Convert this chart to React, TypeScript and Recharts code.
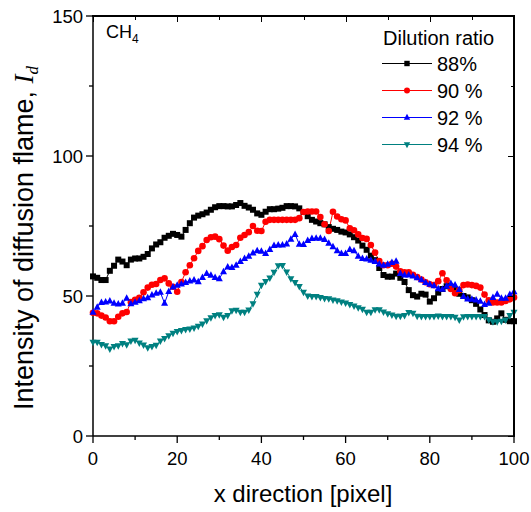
import React from "react"
import { LineChart, Line, XAxis, YAxis } from "recharts"

// x position along the flame [pixel]
const xPixel = [
  0, 1, 2, 3, 4, 5, 6, 7, 8, 9, 10, 11, 12, 13, 14, 15, 16, 17, 18, 19, 20,
  21, 22, 23, 24, 25, 26, 27, 28, 29, 30, 31, 32, 33, 34, 35, 36, 37, 38, 39, 40,
  41, 42, 43, 44, 45, 46, 47, 48, 49, 50, 51, 52, 53, 54, 55, 56, 57, 58, 59, 60,
  61, 62, 63, 64, 65, 66, 67, 68, 69, 70, 71, 72, 73, 74, 75, 76, 77, 78, 79, 80,
  81, 82, 83, 84, 85, 86, 87, 88, 89, 90, 91, 92, 93, 94, 95, 96, 97, 98, 99, 100,
]

// dilution ratio 88%
const ratio88 = [
  57, 56.5, 55.7, 55.7, 59, 60.8, 63, 62.3, 61, 63, 63.4,
  63.4, 64, 65, 67, 68.4, 69.2, 70.8, 71.5, 72.2, 71.8,
  71.2, 73.6, 76, 78, 78.7, 79.2, 79.8, 80.8, 81.7, 82.1,
  82.1, 82, 82, 82.5, 83.2, 82.2, 81.6, 80.8, 79.5, 79,
  80.1, 81, 81, 81.2, 81.5, 82.1, 82.1, 82, 81.3, 80,
  78.5, 77.2, 76.6, 76, 75.6, 74.6, 74, 73.6, 73, 72.7,
  72, 71, 69.8, 68, 66.5, 64.4, 62.8, 60, 57.5, 56.9,
  56.9, 58, 56.5, 55, 52.1, 50.3, 49.8, 50.8, 50.5, 48,
  49.2, 51.2, 52.5, 53.5, 53.3, 52.1, 50.8, 50, 49.5, 48.5,
  47.2, 45.2, 43.2, 41.3, 40.8, 42, 43.8, 41.5, 41, 41,
]

// dilution ratio 90%
const ratio90 = [
  44, 43.8, 43, 42.3, 41, 41, 42.6, 43.8, 44.3, 47.8, 48.6,
  49.4, 51.3, 53, 54, 54.3, 55.7, 56.3, 54.5, 53.3, 51.5,
  55, 58.5, 61, 63.5, 66.1, 67.8, 70, 71, 71.2, 70.3,
  68, 66.2, 67.5, 68.2, 70.8, 71.8, 72.8, 75, 73.3, 73.2,
  76.5, 77.2, 77.2, 77.2, 77.2, 77.2, 77.2, 77.2, 77.8, 80,
  80.2, 80.2, 80.2, 78.2, 75.6, 73.2, 80.1, 78.4, 77.4, 77,
  74.2, 73.5, 72, 70.7, 70.4, 68.2, 65.5, 62.5, 61, 61,
  61.5, 60.5, 58.8, 58.5, 58.5, 57.6, 56.8, 55.9, 54.9, 54.2,
  53.9, 55.3, 58.1, 55.6, 52.5, 51, 52.1, 53.9, 54.1, 53.9,
  53.6, 53, 50.5, 48.5, 47.7, 47.7, 47.7, 48.2, 48.8, 49.5,
]

// dilution ratio 92%
const ratio92 = [
  44.2, 46, 47.7, 47.9, 48.2, 47.4, 47.1, 47.4, 49.2, 47.2, 47.8,
  48.3, 49, 49.4, 50.4, 51, 51.3, 47.4, 51.6, 53.2, 53.8,
  54.3, 54.8, 55.4, 55.7, 55.1, 56.6, 58, 57.4, 56.6, 56.2,
  58.7, 60.4, 60.2, 61, 62.3, 63.4, 64.2, 65.4, 66.2, 66,
  65.2, 66.6, 68, 68.2, 68.2, 68.6, 70.3, 72, 68.5, 68.4,
  69.8, 70.5, 70.6, 70.6, 70.2, 68.8, 67.6, 66.2, 65.2, 65.2,
  66.6, 66.2, 64.2, 63.4, 63.2, 62.8, 62.3, 61.4, 61, 61.3,
  62, 62.4, 58, 57.5, 57.5, 57.1, 56.5, 55.8, 54.8, 54.2,
  53.7, 52.6, 52.4, 53.5, 54.5, 53.9, 52.3, 49.8, 48.9, 48.8,
  48.6, 48.1, 47, 47.4, 49.5, 50.6, 49.2, 49.2, 50.5, 51.5,
]

// dilution ratio 94%
const ratio94 = [
  33.5, 33.5, 32.7, 32.2, 31.1, 32, 32.2, 33, 32.6, 33.9, 34.2,
  33.2, 32.5, 31.5, 32, 32.4, 33.9, 34.8, 35.8, 36.7, 37.3,
  37.7, 38, 38.2, 38.6, 39.2, 40, 41.2, 42.2, 43, 43.3,
  42.4, 43, 44.7, 44.9, 44.2, 44.2, 45, 47.2, 50.6, 53.8,
  55.2, 56.4, 58.5, 60.8, 60.9, 58.6, 56.2, 54.8, 53.4, 51.3,
  50, 49.8, 49.8, 49.5, 49.1, 49, 48.6, 48.3, 47.9, 47.5,
  47, 46.4, 45.8, 45.3, 44.2, 44.2, 45.1, 45.1, 44.3, 43.7,
  43.2, 42.8, 42.8, 43, 44.1, 43.8, 42.8, 42.7, 42.7, 42.7,
  42.7, 42.9, 42.7, 42.7, 42.7, 42.4, 41.4, 42.6, 42.7, 42.7,
  42.7, 42.7, 42.7, 41.5, 40.8, 40.8, 41, 41.4, 43, 44.2,
]

const xTicks = [0, 10, 20, 30, 40, 50, 60, 70, 80, 90, 100]
const yTicks = [0, 25, 50, 75, 100, 125, 150]

const series = [
  { key: "r88", name: "88%", color: "#000000", shape: "square" },
  { key: "r90", name: "90 %", color: "#ff0000", shape: "circle" },
  { key: "r92", name: "92 %", color: "#0000ff", shape: "up" },
  { key: "r94", name: "94 %", color: "#008080", shape: "down" },
]

const data = xPixel.map((x, i) => ({
  x,
  r88: ratio88[i],
  r90: ratio90[i],
  r92: ratio92[i],
  r94: ratio94[i],
}))

const FONT = "'Liberation Sans', Arial, sans-serif"

// plot box in page pixels
const W = 531
const H = 512
const PL = 93
const PR = 514
const PT = 16
const PB = 436

function Marker({ cx, cy, shape, color, s = 3 }) {
  if (cx == null || cy == null) return null
  if (shape === "square")
    return <rect x={cx - s} y={cy - s} width={s * 2} height={s * 2} fill={color} />
  if (shape === "circle") return <circle cx={cx} cy={cy} r={s + 0.3} fill={color} />
  if (shape === "up")
    return <polygon points={`${cx},${cy - s - 1} ${cx - s - 0.5},${cy + s - 0.5} ${cx + s + 0.5},${cy + s - 0.5}`} fill={color} />
  return <polygon points={`${cx},${cy + s + 1} ${cx - s - 0.5},${cy - s + 0.5} ${cx + s + 0.5},${cy - s + 0.5}`} fill={color} />
}

const BottomTick = ({ x, y, payload }) => {
  const major = payload.value % 20 === 0
  return (
    <g>
      <line x1={x} x2={x} y1={y} y2={y + (major ? 7 : 4)} stroke="#000" strokeWidth={1.3} />
      {major && (
        <text x={x} y={y + 29} textAnchor="middle" fontSize={18.5} fontFamily={FONT} fill="#000">
          {payload.value}
        </text>
      )}
    </g>
  )
}

const LeftTick = ({ x, y, payload }) => {
  const major = payload.value % 50 === 0
  return (
    <g>
      <line x1={x - (major ? 7 : 4)} x2={x} y1={y} y2={y} stroke="#000" strokeWidth={1.3} />
      {major && (
        <text x={x - 10} y={y + 6.5} textAnchor="end" fontSize={18.5} fontFamily={FONT} fill="#000">
          {payload.value}
        </text>
      )}
    </g>
  )
}

// top and right edges of the box with inward ticks, drawn as plain blocks
const bar = (left, top, width, height) => ({
  position: "absolute",
  left,
  top,
  width,
  height,
  background: "#000",
  zIndex: 5,
  pointerEvents: "none",
})

function Frame() {
  const tx = (v) => PL + ((PR - PL) * v) / 100
  const ty = (v) => PB - ((PB - PT) * v) / 150
  return (
    <>
      <div style={bar(PL - 1, PT - 1, PR - PL + 2, 2)} />
      <div style={bar(PR - 1, PT - 1, 2, PB - PT + 2)} />
      {xTicks.map((t) => (
        <div key={`t${t}`} style={bar(Math.round(tx(t)) - 0.5, PT, 1.3, t % 20 === 0 ? 6 : 3.5)} />
      ))}
      {yTicks.map((t) => (
        <div key={`r${t}`} style={bar(PR - (t % 50 === 0 ? 6 : 3.5), Math.round(ty(t)) - 0.5, t % 50 === 0 ? 6 : 3.5, 1.3)} />
      ))}
    </>
  )
}

function LegendBox() {
  return (
    <svg width={150} height={140} style={{ position: "absolute", left: 375, top: 20 }}>
      <text x={8} y={25} fontSize={20} fontFamily={FONT} fill="#000">
        Dilution ratio
      </text>
      {series.map((s, i) => {
        const y = 43.5 + i * 27
        return (
          <g key={s.key}>
            <line x1={7} x2={57} y1={y} y2={y} stroke={s.color} strokeWidth={1} />
            <Marker cx={32} cy={y} shape={s.shape} color={s.color} s={2.7} />
            <text x={62} y={y + 7} fontSize={20} fontFamily={FONT} fill="#000">
              {s.name}
            </text>
          </g>
        )
      })}
    </svg>
  )
}

export default function App() {
  return (
    <div style={{ position: "absolute", left: 0, top: 0, width: W, height: H, background: "#fff" }}>
      <LineChart width={W} height={H} data={data} margin={{ top: PT, right: W - PR, bottom: 0, left: 0 }}>
        <XAxis
          dataKey="x"
          type="number"
          domain={[0, 100]}
          ticks={xTicks}
          interval={0}
          tickSize={0}
          tickMargin={0}
          tickLine={false}
          tick={BottomTick}
          axisLine={{ stroke: "#000", strokeWidth: 1.5 }}
          height={H - PB}
          label={{
            content: () => (
              <text x={303} y={502} textAnchor="middle" fontSize={24} fontFamily={FONT} fill="#000">
                x direction [pixel]
              </text>
            ),
          }}
        />
        <YAxis
          type="number"
          domain={[0, 150]}
          ticks={yTicks}
          interval={0}
          tickSize={0}
          tickMargin={0}
          tickLine={false}
          tick={LeftTick}
          axisLine={{ stroke: "#000", strokeWidth: 1.5 }}
          width={PL}
          label={{
            content: () => (
              <text
                x={33}
                y={238}
                transform="rotate(-90, 33, 238)"
                textAnchor="middle"
                fontSize={27}
                fontFamily={FONT}
                fill="#000"
              >
                Intensity of diffusion flame,{" "}
                <tspan fontFamily="'Liberation Serif', 'Times New Roman', serif" fontStyle="italic">
                  I
                </tspan>
                <tspan
                  fontFamily="'Liberation Serif', 'Times New Roman', serif"
                  fontStyle="italic"
                  fontSize={17}
                  dy={5}
                >
                  d
                </tspan>
              </text>
            ),
          }}
        />
        {series.map((s) => (
          <Line
            key={s.key}
            type="linear"
            dataKey={s.key}
            name={s.name}
            stroke={s.color}
            strokeWidth={1}
            isAnimationActive={false}
            dot={(p) => <Marker key={`${s.key}-${p.index}`} cx={p.cx} cy={p.cy} shape={s.shape} color={s.color} />}
            activeDot={false}
          />
        ))}
      </LineChart>
      <Frame />
      <LegendBox />
      <div style={{ position: "absolute", left: 106, top: 23, fontFamily: FONT, fontSize: 18, color: "#000", lineHeight: 1 }}>
        CH<sub style={{ fontSize: 12 }}>4</sub>
      </div>
    </div>
  )
}
